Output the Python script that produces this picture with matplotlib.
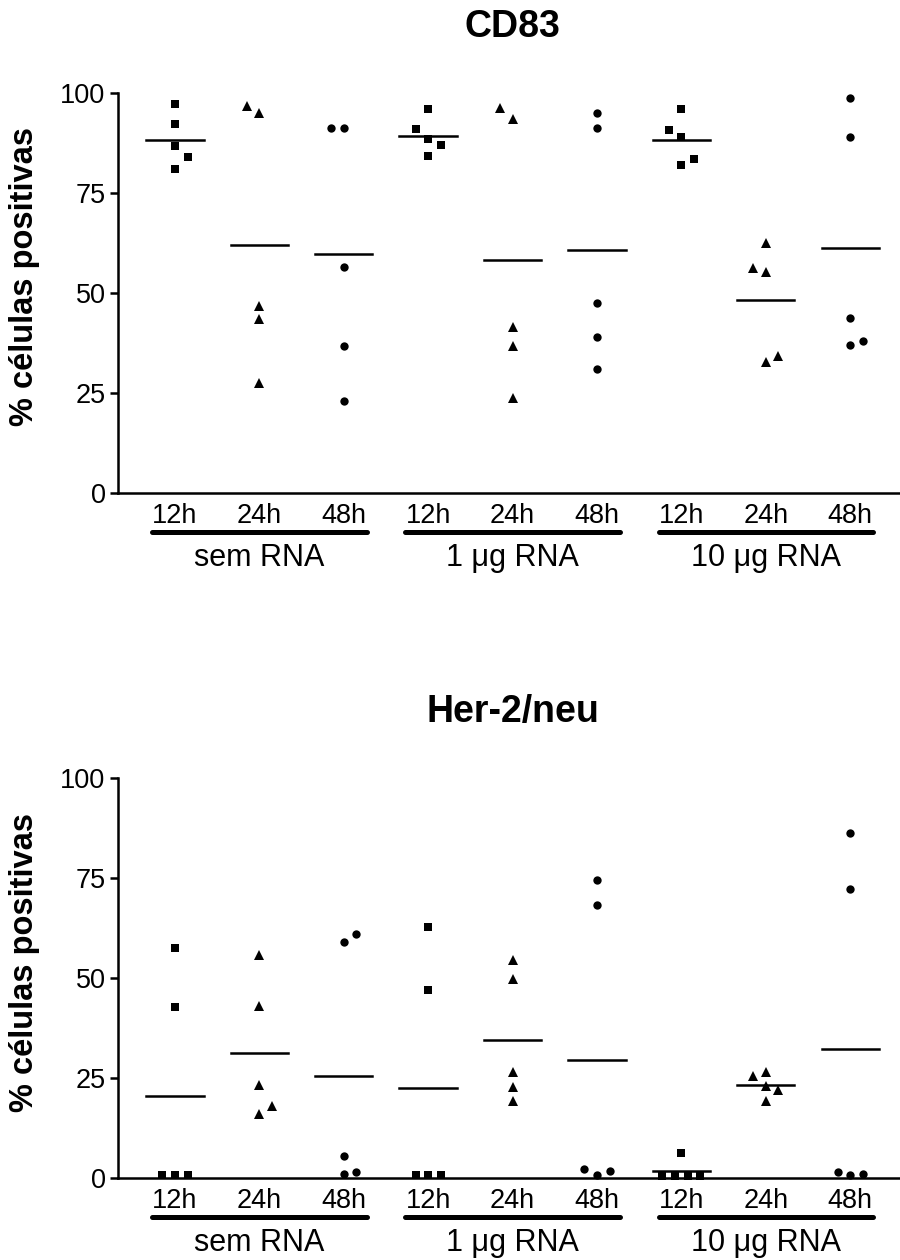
import numpy as np
import matplotlib
matplotlib.use('Agg')
from matplotlib import pyplot as plt
from matplotlib import transforms

plt.rcParams['font.family'] = ['Liberation Sans', 'DejaVu Sans']

times = ['12h', '24h', '48h']
groups = ['sem RNA', '1 μg RNA', '10 μg RNA']

# % positive cells, one list per time point (12h, 24h, 48h)
cd83_sem = [[97.2, 92.2, 86.75, 83.9, 80.9],
            [96.75, 95.1, 46.8, 43.5, 27.4],
            [91.3, 91.3, 56.4, 36.8, 23.0]]
cd83_1ug = [[96.0, 90.9, 88.4, 87.0, 84.25],
            [96.2, 93.4, 41.6, 36.75, 23.8],
            [95.1, 91.2, 47.6, 39.1, 31.1]]
cd83_10ug = [[95.9, 90.75, 88.9, 83.5, 81.9],
             [62.6, 56.2, 55.2, 34.3, 32.7],
             [98.7, 89.1, 43.8, 38.1, 37.0]]

her2_sem = [[57.4, 42.8, 0.8, 0.8, 0.8],
            [55.7, 43.0, 23.3, 18.0, 15.9],
            [61.1, 58.9, 5.5, 1.4, 1.1]]
her2_1ug = [[62.7, 47.1, 0.7, 0.7, 0.7],
            [54.6, 49.75, 26.5, 22.75, 19.2],
            [74.4, 68.2, 2.25, 0.8, 1.8]]
her2_10ug = [[6.25, 0.5, 0.5, 0.5, 0.5],
             [26.4, 25.6, 23.1, 21.9, 19.2],
             [86.25, 72.3, 1.4, 0.8, 1.1]]

# side-by-side slots for overlapping points (layout only)
cd83_slots = [[[0, 0, 0, 1, 0], [-1, 0, 0, 0, 0], [-1, 0, 0, 0, 0]],
              [[0, -1, 0, 1, 0], [-1, 0, 0, 0, 0], [0, 0, 0, 0, 0]],
              [[0, -1, 0, 1, 0], [0, -1, 0, 1, 0], [0, 0, 0, 1, 0]]]
her2_slots = [[[0, 0, -1, 0, 1], [0, 0, 0, 1, 0], [1, 0, 0, 1, 0]],
              [[0, 0, -1, 0, 1], [0, 0, 0, 0, 0], [0, 0, -1, 0, 1]],
              [[0, -1.5, -0.5, 0.5, 1.5], [0, -1, 0, 1, 0], [0, 0, -1, 0, 1]]]

markers = ['s', '^', 'o']
msizes = [5.8, 7.2, 6.0]
SLOT = 0.15


def draw_panel(ax, data, slots, title):
    for g, (vals_g, slots_g) in enumerate(zip(data, slots)):
        for t in range(3):
            pos = g * 3 + t + 1
            vals = np.array(vals_g[t])
            xs = pos + np.array(slots_g[t]) * SLOT
            ax.plot(xs, vals, linestyle='none', marker=markers[t],
                    ms=msizes[t], mew=0, color='black', clip_on=False, zorder=3)
            m = vals.mean()
            ax.plot([pos - 0.34, pos + 0.34], [m, m], color='black', lw=1.8)

    trans = transforms.blended_transform_factory(ax.transData, ax.transAxes)
    for g, name in enumerate(groups):
        p1 = g * 3 + 1
        ax.plot([p1 - 0.27, p1 + 2 + 0.27], [-0.0975, -0.0975], transform=trans,
                color='black', lw=3.6, solid_capstyle='round', clip_on=False)
        ax.text(p1 + 1, -0.163, name, transform=trans, ha='center', va='center',
                fontsize=22)

    ax.text(5, 1.165, title, transform=trans, ha='center', va='center',
            fontsize=27, weight='bold')

    ax.set_xlim(0.325, 9.59)
    ax.set_ylim(0, 100)
    ax.set_xticks(np.arange(1, 10))
    ax.set_xticklabels(times * 3)
    ax.set_yticks([0, 25, 50, 75, 100])
    ax.tick_params(axis='x', length=0, pad=7, labelsize=19.5)
    ax.tick_params(axis='y', length=6, width=1.8, pad=3, labelsize=19.5)
    for s in ['top', 'right']:
        ax.spines[s].set_visible(False)
    for s in ['left', 'bottom']:
        ax.spines[s].set_linewidth(1.8)
    ax.set_ylabel('% células positivas', fontsize=23.5, weight='bold')
    ax.yaxis.set_label_coords(-0.10, 0.54)


fig = plt.figure(figsize=(9, 12.6), dpi=100)
ax_top = fig.add_axes([118 / 900, 1 - 493 / 1260, 782 / 900, 400 / 1260])
ax_bot = fig.add_axes([118 / 900, 1 - 1178 / 1260, 782 / 900, 400 / 1260])

draw_panel(ax_top, [cd83_sem, cd83_1ug, cd83_10ug], cd83_slots, 'CD83')
draw_panel(ax_bot, [her2_sem, her2_1ug, her2_10ug], her2_slots, 'Her-2/neu')

fig.savefig('out.png', dpi=100)
